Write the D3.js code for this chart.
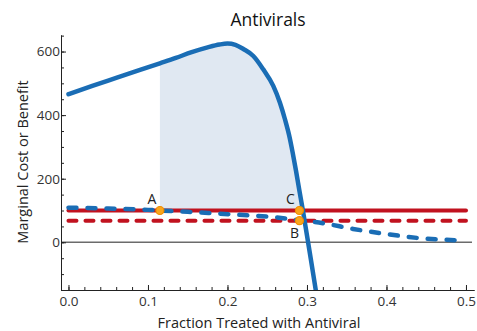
<!DOCTYPE html>
<html><head><meta charset="utf-8">
<script src="https://cdn.jsdelivr.net/npm/d3@7"></script>
<style>
body{margin:0;background:#fff;}
svg{display:block;font-family:"Open Sans","Noto Sans",sans-serif;}
</style></head><body>
<svg id="c" width="477" height="331"></svg>
<script>
// Marginal benefit of antiviral treatment (blue solid)
const benefitX = [0.000,0.030,0.060,0.090,0.115,0.135,0.155,0.175,0.190,0.200,0.210,0.220,0.2325,0.245,0.2576,0.266,0.2723,0.2777,0.282,0.2862,0.2903,0.295,0.300,0.305,0.312];
const benefitY = [466,492,517,542,563,580,598,613,622,625,621,608,586,544,492,439,387,335,282,225,165,98,22,-55,-165];
// Marginal benefit, alternative (blue dashed)
const costX = [0.00,0.05,0.10,0.115,0.15,0.19,0.237,0.2535,0.29,0.3205,0.358,0.40,0.442,0.4946];
const costY = [109,106,102,100,96,90,83,80,70,60,42,26,13,6];
// Marginal cost lines (red)
const costSolidX = [0,0.5], costSolidY = [100,100];
const costDashX = [0,0.5], costDashY = [68,68];
// Marked points
const pointNames = ["A","C","B"];
const pointX = [0.115,0.2905,0.2905];
const pointY = [100,100,68];
const shadeStart = 0.115, shadeLevel = 100;
// Ticks
const xMajor = [0,0.1,0.2,0.3,0.4,0.5];
const xMinor = d3.range(0,0.5001,0.02);
const yMajor = [0,200,400,600];
const yMinor = d3.range(-150,651,50);

const svg = d3.select("#c");
const x = d3.scaleLinear().domain([-0.0094,0.5101]).range([61,474]);
const y = d3.scaleLinear().domain([-150,652]).range([290,35]);
const blue="#1a6db5", red="#c1121f";

const defs = svg.append("defs");
defs.append("clipPath").attr("id","plot").append("rect")
  .attr("x",61).attr("y",35).attr("width",413).attr("height",255);
defs.append("clipPath").attr("id","shade").append("rect")
  .attr("x",x(shadeStart)).attr("y",35).attr("width",474-x(shadeStart)).attr("height",y(shadeLevel)-35);

const zip = (a,b)=>a.map((v,i)=>[v,b[i]]);
const benefit = zip(benefitX,benefitY), cost = zip(costX,costY);

// shading
svg.append("path").datum(benefit).attr("clip-path","url(#shade)")
  .attr("fill","#e0e8f2")
  .attr("d", d3.area().x(d=>x(d[0])).y0(y(shadeLevel)).y1(d=>y(d[1])).curve(d3.curveMonotoneX));

// zero line
svg.append("line").attr("x1",61).attr("x2",472).attr("y1",y(0)).attr("y2",y(0))
  .attr("stroke","#6b6b6b").attr("stroke-width",1.5);

// axes
const gx = svg.append("g").attr("transform",`translate(0,290)`);
gx.call(d3.axisBottom(x).tickValues(xMinor).tickSize(-3).tickSizeOuter(0).tickFormat(""));
const gx2 = svg.append("g").attr("transform",`translate(0,290)`);
gx2.call(d3.axisBottom(x).tickValues(xMajor).tickSize(-5).tickSizeOuter(0).tickPadding(6).tickFormat(d3.format(".1f")));
const gy = svg.append("g").attr("transform",`translate(61,0)`);
gy.call(d3.axisLeft(y).tickValues(yMinor).tickSize(-3).tickSizeOuter(0).tickFormat(""));
const gy2 = svg.append("g").attr("transform",`translate(61,0)`);
gy2.call(d3.axisLeft(y).tickValues(yMajor).tickSize(-5).tickSizeOuter(0).tickPadding(1));
svg.selectAll(".domain").attr("stroke","#222");
svg.selectAll(".tick line").attr("stroke","#222");
svg.selectAll(".tick text").attr("font-size",13.5).attr("fill","#333").attr("font-family",'"Open Sans","Noto Sans",sans-serif');

const line = d3.line().x(d=>x(d[0])).y(d=>y(d[1]));
const pg = svg.append("g").attr("clip-path","url(#plot)");
pg.append("path").datum(zip(costSolidX,costSolidY)).attr("d",line).attr("fill","none")
  .attr("stroke",red).attr("stroke-width",4).attr("stroke-linecap","round");
pg.append("path").datum(zip(costDashX,costDashY)).attr("d",line).attr("fill","none")
  .attr("stroke",red).attr("stroke-width",4).attr("stroke-linecap","round").attr("stroke-dasharray","8 9");
pg.append("path").datum(cost).attr("d",line.curve(d3.curveMonotoneX)).attr("fill","none")
  .attr("stroke",blue).attr("stroke-width",4.5).attr("stroke-linecap","round").attr("stroke-dasharray","8 11");
pg.append("path").datum(benefit).attr("d",line.curve(d3.curveMonotoneX)).attr("fill","none")
  .attr("stroke",blue).attr("stroke-width",4.5).attr("stroke-linecap","round");

// points
pointX.forEach((px,i)=>{
  svg.append("circle").attr("cx",x(px)).attr("cy",y(pointY[i])).attr("r",4)
    .attr("fill","#f9a61c").attr("stroke","#f08c00").attr("stroke-width",1.2);
});
const labOff = {A:[-8,-7],C:[-9,-7],B:[-5,17]};
pointNames.forEach((n,i)=>{
  svg.append("text").attr("x",x(pointX[i])+labOff[n][0]).attr("y",y(pointY[i])+labOff[n][1])
    .attr("text-anchor","middle").attr("font-size",14).attr("fill","#222").text(n);
});

// titles
svg.append("text").attr("x",268).attr("y",26).attr("text-anchor","middle")
  .attr("font-size",17.5).attr("fill","#111").text("Antivirals");
svg.append("text").attr("x",259).attr("y",328).attr("text-anchor","middle")
  .attr("font-size",14.5).attr("fill","#222").text("Fraction Treated with Antiviral");
svg.append("text").attr("transform","translate(28,162) rotate(-90)").attr("text-anchor","middle")
  .attr("font-size",14.5).attr("fill","#222").text("Marginal Cost or Benefit");
</script></body></html>
